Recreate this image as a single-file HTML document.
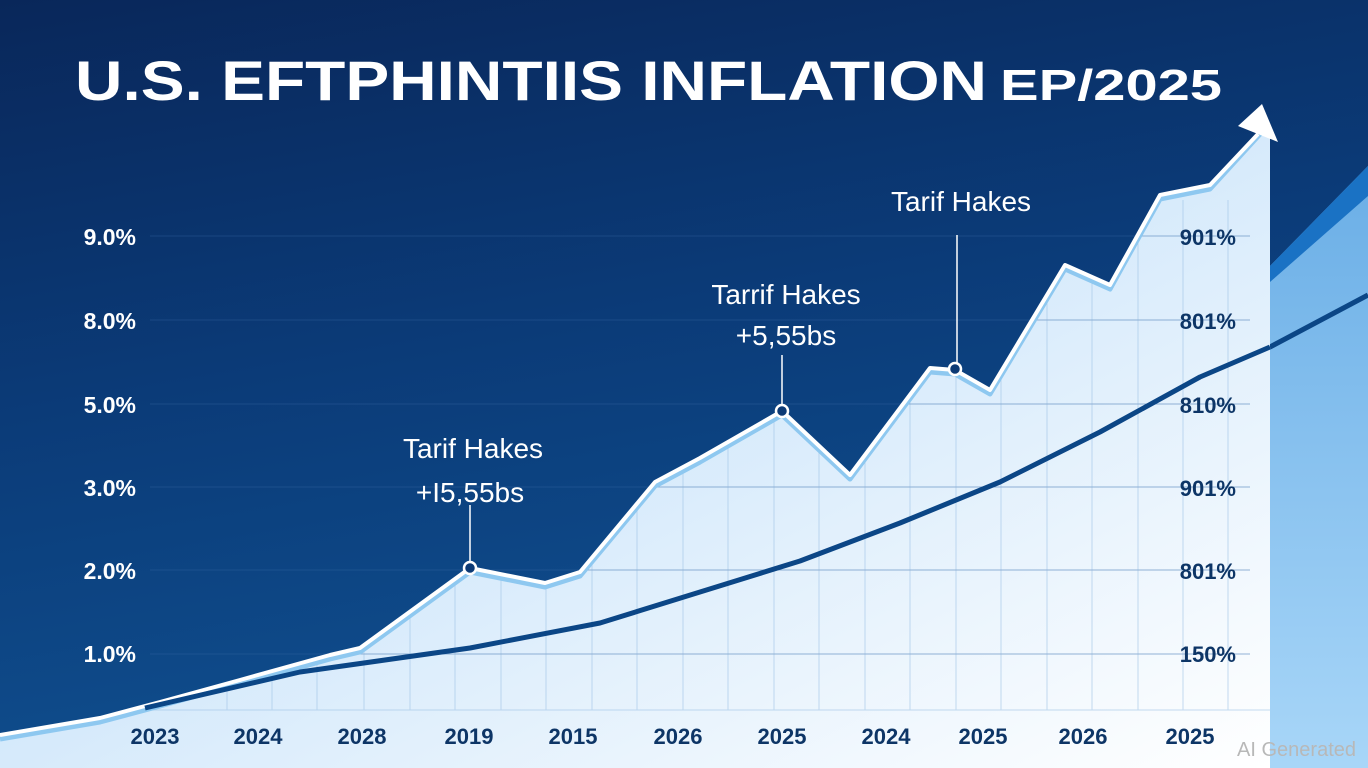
<!DOCTYPE html>
<html><head><meta charset="utf-8"><style>
html,body{margin:0;padding:0;width:1368px;height:768px;overflow:hidden;background:#0c3a75}
svg{display:block}
text{font-family:"Liberation Sans","DejaVu Sans",sans-serif;font-weight:bold}
</style></head><body>
<svg width="1368" height="768" viewBox="0 0 1368 768" xmlns="http://www.w3.org/2000/svg">
<defs>
<linearGradient id="bg" x1="0" y1="0" x2="0.3" y2="1">
<stop offset="0" stop-color="#09275a"/><stop offset="0.5" stop-color="#0b3b78"/><stop offset="1" stop-color="#0f4f8f"/>
</linearGradient>
<linearGradient id="fill" x1="0" y1="0" x2="1" y2="1">
<stop offset="0" stop-color="#bcdcf6"/><stop offset="0.5" stop-color="#d6eafb"/><stop offset="1" stop-color="#ffffff"/>
</linearGradient>
<linearGradient id="rp" x1="0" y1="0" x2="0" y2="1">
<stop offset="0" stop-color="#6aaee6"/><stop offset="1" stop-color="#a8d6f8"/>
</linearGradient>
<clipPath id="fc"><polygon points="0,735 100,718 160,702 240,680 330,655 360,648 470,568 545,583 580,572 655,482 700,458 782,411 850,475 930,368 955,370 990,390 1065,265 1110,285 1160,195 1210,185 1262,128 1270,128 1270,768 0,768"/></clipPath>
</defs>
<rect width="1368" height="768" fill="url(#bg)"/>
<polygon points="1270,266 1368,166 1368,768 1270,768" fill="url(#rp)"/>
<polygon points="1270,266 1368,166 1368,196 1270,282" fill="#1a72c4"/>
<polyline points="1270,347 1368,295" fill="none" stroke="#0b4686" stroke-width="5"/>
<polygon points="0,735 100,718 160,702 240,680 330,655 360,648 470,568 545,583 580,572 655,482 700,458 782,411 850,475 930,368 955,370 990,390 1065,265 1110,285 1160,195 1210,185 1262,128 1270,128 1270,768 0,768" fill="url(#fill)"/>
<g stroke="#9fc3e6" stroke-width="1" opacity="0.6" clip-path="url(#fc)">
<line x1="150" y1="654" x2="1250" y2="654"/><line x1="150" y1="570" x2="1250" y2="570"/>
<line x1="150" y1="487" x2="1250" y2="487"/><line x1="150" y1="404" x2="1250" y2="404"/>
<line x1="150" y1="320" x2="1250" y2="320"/><line x1="150" y1="236" x2="1250" y2="236"/>
<line x1="150" y1="710" x2="1270" y2="710"/>
<line x1="227" y1="200" x2="227" y2="710"/><line x1="272" y1="200" x2="272" y2="710"/>
<line x1="317" y1="200" x2="317" y2="710"/><line x1="364" y1="200" x2="364" y2="710"/>
<line x1="410" y1="200" x2="410" y2="710"/><line x1="455" y1="200" x2="455" y2="710"/>
<line x1="501" y1="200" x2="501" y2="710"/><line x1="546" y1="200" x2="546" y2="710"/>
<line x1="592" y1="200" x2="592" y2="710"/><line x1="637" y1="200" x2="637" y2="710"/>
<line x1="683" y1="200" x2="683" y2="710"/><line x1="728" y1="200" x2="728" y2="710"/>
<line x1="774" y1="200" x2="774" y2="710"/><line x1="819" y1="200" x2="819" y2="710"/>
<line x1="865" y1="200" x2="865" y2="710"/><line x1="910" y1="200" x2="910" y2="710"/>
<line x1="956" y1="200" x2="956" y2="710"/><line x1="1001" y1="200" x2="1001" y2="710"/>
<line x1="1047" y1="200" x2="1047" y2="710"/><line x1="1092" y1="200" x2="1092" y2="710"/>
<line x1="1138" y1="200" x2="1138" y2="710"/><line x1="1183" y1="200" x2="1183" y2="710"/><line x1="1228" y1="200" x2="1228" y2="710"/>
</g>
<g stroke="#3a6aa6" stroke-width="1" opacity="0.35">
<line x1="150" y1="654" x2="1250" y2="654"/><line x1="150" y1="570" x2="1250" y2="570"/>
<line x1="150" y1="487" x2="1250" y2="487"/><line x1="150" y1="404" x2="1250" y2="404"/>
<line x1="150" y1="320" x2="1250" y2="320"/><line x1="150" y1="236" x2="1250" y2="236"/>
</g>
<polyline points="0,739 100,722 160,706 240,684 330,659 360,652 470,572 545,587 580,576 655,486 700,462 782,415 850,479 930,372 955,374 990,394 1065,269 1110,289 1160,199 1210,189 1262,132" fill="none" stroke="#8ec8f0" stroke-width="5" stroke-linejoin="round"/>
<polyline points="0,735 100,718 160,702 240,680 330,655 360,648 470,568 545,583 580,572 655,482 700,458 782,411 850,475 930,368 955,370 990,390 1065,265 1110,285 1160,195 1210,185 1258,134" fill="none" stroke="#ffffff" stroke-width="4" stroke-linejoin="round"/>
<polygon points="1262,104 1238,126 1278,142" fill="#ffffff"/>
<polyline points="145,708 300,672 470,648 600,623 700,592 800,561 900,523 1000,482 1100,432 1200,377 1270,347" fill="none" stroke="#0b4686" stroke-width="5" stroke-linejoin="round"/>
<g stroke="#ffffff" stroke-width="1.5"><line x1="470" y1="505" x2="470" y2="562"/><line x1="782" y1="355" x2="782" y2="405"/><line x1="957" y1="235" x2="957" y2="363"/></g>
<g fill="#0c3a75" stroke="#ffffff" stroke-width="2.5"><circle cx="470" cy="568" r="6"/><circle cx="782" cy="411" r="6"/><circle cx="955" cy="369" r="6"/></g>
<g fill="#ffffff" font-size="28" text-anchor="middle">
<text x="473" y="458" style="font-weight:normal">Tarif Hakes</text>
<text x="470" y="502" style="font-weight:normal">+I5,55bs</text>
<text x="786" y="304" style="font-weight:normal">Tarrif Hakes</text>
<text x="786" y="345" style="font-weight:normal">+5,55bs</text>
<text x="961" y="211" style="font-weight:normal">Tarif Hakes</text>
</g>
<text x="75" y="100" fill="#ffffff" font-size="56" textLength="912" lengthAdjust="spacingAndGlyphs">U.S. EFTPHINTIIS INFLATION</text>
<text x="1000" y="100" fill="#ffffff" font-size="44" textLength="222" lengthAdjust="spacingAndGlyphs">EP/2025</text>
<g fill="#ffffff" font-size="23" font-weight="normal" text-anchor="end">
<text x="136" y="245">9.0%</text><text x="136" y="329">8.0%</text><text x="136" y="413">5.0%</text>
<text x="136" y="496">3.0%</text><text x="136" y="579">2.0%</text><text x="136" y="662">1.0%</text>
</g>
<g fill="#0d3566" font-size="22" text-anchor="end">
<text x="1236" y="245">901%</text><text x="1236" y="329">801%</text><text x="1236" y="413">810%</text>
<text x="1236" y="496">901%</text><text x="1236" y="579">801%</text><text x="1236" y="662">150%</text>
</g>
<g fill="#0d3566" font-size="22" text-anchor="middle">
<text x="155" y="744">2023</text><text x="258" y="744">2024</text><text x="362" y="744">2028</text>
<text x="469" y="744">2019</text><text x="573" y="744">2015</text><text x="678" y="744">2026</text>
<text x="782" y="744">2025</text><text x="886" y="744">2024</text><text x="983" y="744">2025</text>
<text x="1083" y="744">2026</text><text x="1190" y="744">2025</text>
</g>
<text x="1356" y="756" fill="#b8b8b8" font-size="20" text-anchor="end" style="font-weight:normal">AI Generated</text>
</svg>
</body></html>
